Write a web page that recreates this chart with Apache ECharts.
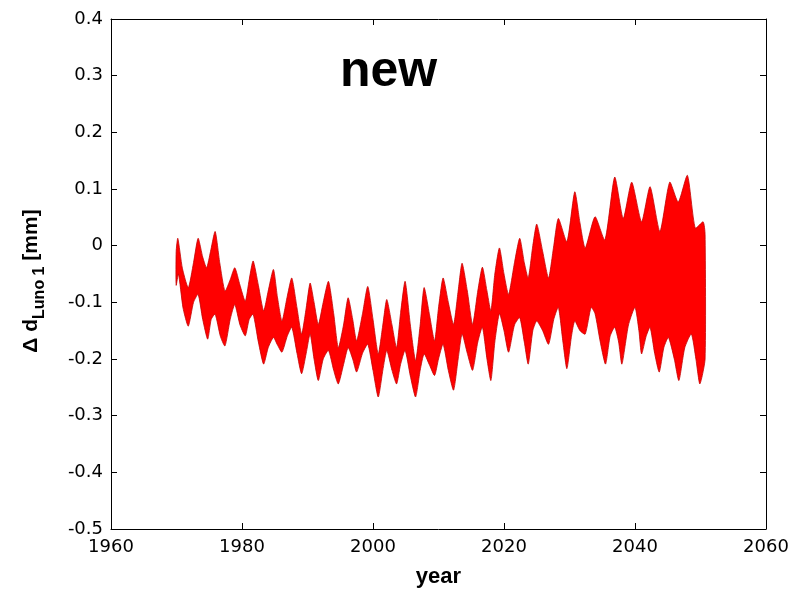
<!DOCTYPE html>
<html>
<head>
<meta charset="utf-8">
<script src="https://cdn.jsdelivr.net/npm/echarts@6/dist/echarts.min.js"></script>
<style>
  html, body { margin: 0; padding: 0; background: #fff; }
  #chart { width: 798px; height: 593px; }
</style>
</head>
<body>
<div id="chart"></div>
<script>
// Upper and lower envelope of the dense Δd oscillation (years, mm)
const upperYears = [1969.95, 1970.2, 1970.9, 1971.8, 1972.6, 1973.3, 1974.0, 1974.6, 1975.2, 1975.9,
  1976.6, 1977.4, 1978.2, 1978.9, 1979.7, 1980.5, 1981.1, 1981.7, 1982.5, 1983.3,
  1984.0, 1984.8, 1985.4, 1986.1, 1986.9, 1987.6, 1988.4, 1989.1, 1989.8, 1990.4,
  1991.0, 1991.65, 1992.4, 1993.2, 1994.0, 1994.7, 1995.5, 1996.2, 1996.9, 1997.5,
  1998.4, 1999.2, 2000.0, 2000.8, 2001.5, 2002.1, 2002.9, 2003.6, 2004.2, 2004.9,
  2005.7, 2006.5, 2007.2, 2007.8, 2008.6, 2009.4, 2010.0, 2010.7, 2011.5, 2012.3,
  2013.0, 2013.6, 2014.4, 2015.2, 2016.0, 2016.7, 2017.4, 2018.0, 2018.6, 2019.3,
  2020.0, 2020.7, 2021.6, 2022.4, 2023.1, 2023.7, 2024.4, 2025.0, 2025.9, 2026.8,
  2027.6, 2028.3, 2029.6, 2030.8, 2031.6, 2032.4, 2033.9, 2035.4, 2036.9, 2038.2,
  2039.5, 2041.0, 2042.3, 2043.8, 2045.3, 2046.6, 2048.0, 2049.2, 2050.4, 2050.7];
const upperValues = [-0.01, 0.013, -0.04, -0.074, -0.03, 0.013, -0.02, -0.039, -0.01, 0.025,
  -0.03, -0.08, -0.06, -0.039, -0.07, -0.098, -0.06, -0.027, -0.07, -0.115,
  -0.08, -0.042, -0.09, -0.133, -0.09, -0.057, -0.11, -0.156, -0.11, -0.066,
  -0.10, -0.139, -0.10, -0.063, -0.12, -0.180, -0.14, -0.092, -0.13, -0.168,
  -0.12, -0.072, -0.13, -0.191, -0.14, -0.095, -0.14, -0.180, -0.12, -0.063,
  -0.14, -0.203, -0.14, -0.074, -0.12, -0.168, -0.11, -0.057, -0.10, -0.139,
  -0.08, -0.031, -0.08, -0.139, -0.08, -0.038, -0.08, -0.115, -0.05, -0.004,
  -0.05, -0.086, -0.03, 0.013, -0.03, -0.057, 0.0, 0.038, -0.01, -0.057,
  0.0, 0.048, 0.007, 0.095, 0.04, -0.004, 0.051, 0.01, 0.121, 0.048,
  0.112, 0.042, 0.104, 0.025, 0.112, 0.077, 0.124, 0.031, 0.042, 0.02];

const lowerYears = [1969.95, 1970.3, 1971.0, 1971.8, 1972.6, 1973.3, 1974.0, 1974.76, 1975.3, 1975.9,
  1976.7, 1977.4, 1978.2, 1978.9, 1979.7, 1980.5, 1981.1, 1981.7, 1982.5, 1983.3,
  1984.0, 1984.8, 1985.4, 1986.1, 1986.9, 1987.6, 1988.4, 1989.1, 1989.8, 1990.4,
  1991.0, 1991.65, 1992.4, 1993.2, 1994.0, 1994.7, 1995.5, 1996.2, 1996.9, 1997.5,
  1998.4, 1999.2, 2000.0, 2000.8, 2001.5, 2002.1, 2002.9, 2003.6, 2004.2, 2004.9,
  2005.7, 2006.5, 2007.2, 2007.8, 2008.6, 2009.4, 2010.0, 2010.7, 2011.5, 2012.3,
  2013.0, 2013.6, 2014.4, 2015.2, 2016.0, 2016.7, 2017.4, 2018.0, 2018.6, 2019.3,
  2020.0, 2020.7, 2021.6, 2022.4, 2023.1, 2023.7, 2024.4, 2025.0, 2025.9, 2026.8,
  2027.6, 2028.3, 2029.0, 2029.6, 2030.3, 2030.8, 2031.6, 2032.4, 2033.3, 2033.9,
  2034.7, 2035.5, 2036.2, 2036.9, 2037.5, 2038.0, 2039.0, 2040.0, 2040.6, 2041.0,
  2041.7, 2042.3, 2043.0, 2043.7, 2044.4, 2045.1, 2046.0, 2046.7, 2047.6, 2048.6,
  2049.3, 2049.9, 2050.7];
const lowerValues = [-0.07, -0.05, -0.11, -0.142, -0.10, -0.086, -0.13, -0.165, -0.13, -0.121,
  -0.16, -0.177, -0.13, -0.104, -0.14, -0.159, -0.13, -0.121, -0.17, -0.209,
  -0.18, -0.162, -0.175, -0.188, -0.16, -0.144, -0.19, -0.226, -0.19, -0.156,
  -0.20, -0.238, -0.20, -0.185, -0.22, -0.244, -0.21, -0.180, -0.20, -0.223,
  -0.19, -0.174, -0.22, -0.267, -0.22, -0.185, -0.22, -0.244, -0.21, -0.185,
  -0.23, -0.267, -0.22, -0.191, -0.21, -0.229, -0.20, -0.174, -0.22, -0.255,
  -0.20, -0.156, -0.19, -0.220, -0.17, -0.144, -0.20, -0.238, -0.17, -0.12,
  -0.15, -0.188, -0.14, -0.127, -0.17, -0.209, -0.15, -0.133, -0.15, -0.174,
  -0.13, -0.109, -0.17, -0.217, -0.16, -0.133, -0.15, -0.156, -0.109, -0.12,
  -0.17, -0.209, -0.16, -0.144, -0.17, -0.209, -0.14, -0.109, -0.15, -0.191,
  -0.16, -0.144, -0.19, -0.223, -0.18, -0.162, -0.20, -0.238, -0.18, -0.156,
  -0.20, -0.244, -0.20];

const xTicks = { min: 1960, max: 2060, step: 20 };
const yTicks = { min: -0.5, max: 0.4, step: 0.1 };

const TICK_FONT = '"DejaVu Sans", Arial, sans-serif';
const FONT = '"Liberation Sans", Arial, Helvetica, sans-serif';

const upperPts = upperYears.map((y, i) => [y, upperValues[i]]);
const lowerPts = lowerYears.map((y, i) => [y, lowerValues[i]]);

const chart = echarts.init(document.getElementById('chart'), null, { renderer: 'canvas' });

function yLabel(v) {
  const r = Math.round(v * 10) / 10;
  return r === 0 ? '0' : r.toFixed(1);
}

const axisCommon = {
  axisLine: { show: true, onZero: false, lineStyle: { color: '#000', width: 1 } },
  axisTick: { show: true, inside: true, length: 6, lineStyle: { color: '#000', width: 1 } },
  splitLine: { show: false }
};

// measure text for the rotated y-axis title
const ctx = document.createElement('canvas').getContext('2d');
function textW(str, size) {
  ctx.font = 'bold ' + size + 'px ' + FONT;
  return ctx.measureText(str).width;
}
const mainSize = 21, subSize = 16;
const partA = '\u0394 d', partB = 'Luno 1', partC = ' [mm]';
const wA = textW(partA, mainSize), wB = textW(partB, subSize), wC = textW(partC, mainSize);
const titleLen = wA + wB + wC;
const titleCenterY = 281;
const titleBaseX = 42;

const option = {
  animation: false,
  backgroundColor: '#fff',
  grid: { left: 111, top: 19, right: 32, bottom: 60, containLabel: false },
  xAxis: [
    Object.assign({
      type: 'value', position: 'bottom',
      min: xTicks.min, max: xTicks.max, interval: xTicks.step,
      axisLabel: { color: '#000', fontSize: 18, fontFamily: TICK_FONT, margin: 9, formatter: v => String(v) },
      name: 'year', nameLocation: 'middle', nameGap: 37,
      nameTextStyle: { color: '#000', fontSize: 22, fontWeight: 'bold', fontFamily: FONT }
    }, axisCommon),
    Object.assign({
      type: 'value', position: 'top',
      min: xTicks.min, max: xTicks.max, interval: xTicks.step,
      axisLabel: { show: false }
    }, axisCommon)
  ],
  yAxis: [
    Object.assign({
      type: 'value', position: 'left',
      min: yTicks.min, max: yTicks.max, interval: yTicks.step,
      axisLabel: { color: '#000', fontSize: 18, fontFamily: TICK_FONT, margin: 8, formatter: yLabel }
    }, axisCommon),
    Object.assign({
      type: 'value', position: 'right',
      min: yTicks.min, max: yTicks.max, interval: yTicks.step,
      axisLabel: { show: false }
    }, axisCommon)
  ],
  graphic: [
    {
      type: 'text', left: 340, top: 47,
      style: { text: 'new', fill: '#000', font: 'bold 50px ' + FONT }
    },
    {
      type: 'group',
      x: titleBaseX, y: titleCenterY + titleLen / 2,
      rotation: Math.PI / 2,
      children: [
        { type: 'text', x: 0, y: 0,
          style: { text: partA, fill: '#000', font: 'bold ' + mainSize + 'px ' + FONT, textVerticalAlign: 'bottom' } },
        { type: 'text', x: wA, y: 6,
          style: { text: partB, fill: '#000', font: 'bold ' + subSize + 'px ' + FONT, textVerticalAlign: 'bottom' } },
        { type: 'text', x: wA + wB, y: 0,
          style: { text: partC, fill: '#000', font: 'bold ' + mainSize + 'px ' + FONT, textVerticalAlign: 'bottom' } }
      ]
    }
  ],
  series: [{
    type: 'custom',
    coordinateSystem: 'cartesian2d',
    xAxisIndex: 0, yAxisIndex: 0,
    data: upperPts,
    clip: true,
    renderItem: function (params, api) {
      if (params.dataIndex !== 0) return null;
      const pts = upperPts.map(p => api.coord(p))
        .concat(lowerPts.slice().reverse().map(p => api.coord(p)));
      return {
        type: 'polygon',
        shape: { points: pts, smooth: 0.2 },
        style: { fill: '#ff0000', stroke: '#c40000', lineWidth: 0.8 }
      };
    }
  }]
};

chart.setOption(option);
</script>
</body>
</html>
